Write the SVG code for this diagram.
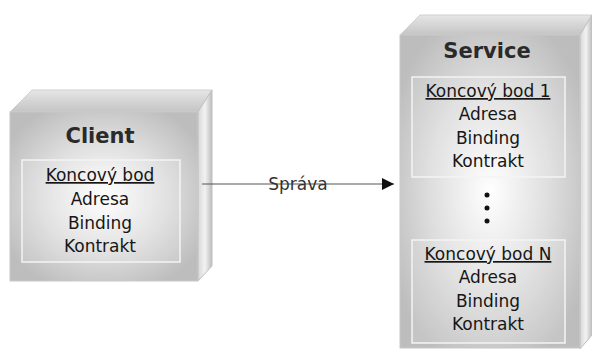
<svg xmlns="http://www.w3.org/2000/svg" width="592" height="349" viewBox="0 0 592 349">
<defs>
<radialGradient id="front" cx="0.5" cy="0.5" r="0.6">
<stop offset="0" stop-color="#ffffff"/>
<stop offset="0.55" stop-color="#dedede"/>
<stop offset="1" stop-color="#bdbdbd"/>
</radialGradient>
<linearGradient id="top" x1="0" y1="0" x2="0" y2="1">
<stop offset="0" stop-color="#e6e6e6"/>
<stop offset="1" stop-color="#c4c4c4"/>
</linearGradient>
<linearGradient id="side" x1="0" y1="0" x2="1" y2="0">
<stop offset="0" stop-color="#d8d8d8"/>
<stop offset="0.5" stop-color="#f2f2f2"/>
<stop offset="1" stop-color="#bcbcbc"/>
</linearGradient>
<marker id="arr" viewBox="0 0 10 10" refX="10" refY="5" markerWidth="12" markerHeight="12" markerUnits="userSpaceOnUse" orient="auto">
<path d="M0,0 L10,5 L0,10 Z" fill="#111"/>
</marker>
</defs>
<style>
.front{fill:url(#front);stroke:#c8c8c8;stroke-width:1}
.top{fill:url(#top);stroke:#d0d0d0;stroke-width:1}
.side{fill:url(#side);stroke:#c0c0c0;stroke-width:1}
.inner{fill:#ffffff;fill-opacity:0.12;stroke:#f4f4f4;stroke-width:1.5}
text{font-family:"DejaVu Sans","Liberation Sans",sans-serif;fill:#161616;text-anchor:middle}
.title{font-size:21px;font-weight:bold;fill:#2a2a2a}
.t{font-size:17px}
.u{text-decoration:underline}
.lbl{font-size:17px;fill:#333}
</style>
<rect width="592" height="349" fill="#ffffff"/>
<g id="client">
<polygon class="top" points="10,112 32,90 212,90 198,112"/>
<polygon class="side" points="198,112 212,90 212,266 198,281"/>
<rect class="front" x="10" y="112" width="188" height="169"/>
<text class="title" x="100" y="143">Client</text>
<rect class="inner" x="22" y="160" width="158" height="102"/>
<text class="t u" x="100" y="181">Koncový bod</text>
<text class="t" x="100" y="205">Adresa</text>
<text class="t" x="100" y="229">Binding</text>
<text class="t" x="100" y="252">Kontrakt</text>
</g>
<g id="service">
<polygon class="top" points="400,35 420,15 592,15 580,35"/>
<polygon class="side" points="580,35 592,15 592,335 580,349"/>
<rect class="front" x="400" y="35" width="180" height="313"/>
<text class="title" x="487" y="58">Service</text>
<rect class="inner" x="412" y="77" width="153" height="100"/>
<text class="t u" x="488" y="97">Koncový bod 1</text>
<text class="t" x="488" y="120">Adresa</text>
<text class="t" x="488" y="144">Binding</text>
<text class="t" x="488" y="167">Kontrakt</text>
<circle cx="487" cy="195" r="2.5" fill="#111"/>
<circle cx="487" cy="208" r="2.5" fill="#111"/>
<circle cx="487" cy="221" r="2.5" fill="#111"/>
<rect class="inner" x="412" y="240" width="153" height="103"/>
<text class="t u" x="488" y="260">Koncový bod N</text>
<text class="t" x="488" y="283">Adresa</text>
<text class="t" x="488" y="307">Binding</text>
<text class="t" x="488" y="330">Kontrakt</text>
</g>
<g id="connectors">
<line x1="202" y1="184" x2="394" y2="184" stroke="#555" stroke-width="1.2" marker-end="url(#arr)"/>
<text class="lbl" x="298" y="190">Správa</text>
</g>
</svg>
